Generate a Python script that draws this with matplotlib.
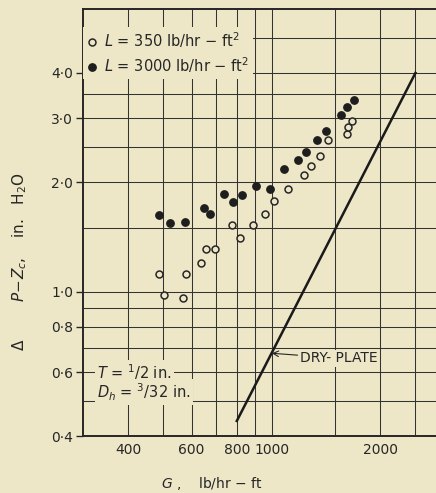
import matplotlib.pyplot as plt
from matplotlib.ticker import NullFormatter

paper = '#ede7c7'
ink = '#262626'

# L = 350 lb/hr-ft2 (open circles)
g_350 = [486, 503, 566, 577, 636, 659, 695, 778, 817, 889,
         956, 1016, 1110, 1229, 1282, 1364, 1427, 1613, 1622, 1669]
dp_350 = [1.12, 0.98, 0.96, 1.12, 1.20, 1.31, 1.31, 1.52, 1.40, 1.52,
          1.64, 1.78, 1.91, 2.09, 2.22, 2.36, 2.61, 2.72, 2.83, 2.95]

# L = 3000 lb/hr-ft2 (filled circles)
g_3000 = [487, 522, 574, 649, 673, 736, 781, 829, 903, 989,
          1084, 1184, 1245, 1334, 1414, 1553, 1613, 1687]
dp_3000 = [1.62, 1.54, 1.55, 1.70, 1.64, 1.86, 1.76, 1.85, 1.95, 1.92,
           2.18, 2.30, 2.42, 2.61, 2.77, 3.06, 3.22, 3.37]

# dry-plate pressure drop line
g_dry = [800, 2500]
dp_dry = [0.44, 4.0]

x_ticks = [400, 600, 800, 1000, 2000]
x_grid = [500, 700, 900, 1500, 2500]
y_ticks = [0.4, 0.6, 0.8, 1.0, 2.0, 3.0, 4.0]
y_tick_labels = ['0·4', '0·6', '0·8', '1·0', '2·0', '3·0', '4·0']
y_grid = [0.5, 0.7, 0.9, 1.5, 2.5, 3.5, 5.0]

plt.rcParams['font.family'] = 'DejaVu Sans'
plt.rcParams['mathtext.fontset'] = 'dejavusans'

fig = plt.figure(figsize=(4.36, 4.93), dpi=100, facecolor=paper)
ax = fig.add_axes([83 / 436, 57 / 493, 353 / 436, 427 / 493], facecolor=paper)

ax.set_xscale('log')
ax.set_yscale('log')
ax.set_xlim(300, 2850)
ax.set_ylim(0.4, 6.0)

ax.set_xticks(x_ticks)
ax.set_xticklabels([str(v) for v in x_ticks])
ax.set_xticks(x_grid, minor=True)
ax.set_yticks(y_ticks)
ax.set_yticklabels(y_tick_labels)
ax.set_yticks(y_grid, minor=True)
ax.xaxis.set_minor_formatter(NullFormatter())
ax.yaxis.set_minor_formatter(NullFormatter())

ax.tick_params(axis='x', which='both', length=0, pad=5, labelsize=10, colors=ink)
ax.tick_params(axis='y', which='major', length=5, width=1.0, direction='out',
               pad=2, labelsize=10, colors=ink)
ax.tick_params(axis='y', which='minor', length=0)

ax.grid(which='both', color='#333333', linewidth=0.75)
ax.set_axisbelow(True)

ax.spines['right'].set_visible(False)
for s in ['left', 'bottom', 'top']:
    ax.spines[s].set_color(ink)
    ax.spines[s].set_linewidth(1.4)

ax.plot(g_dry, dp_dry, color='#1a1a1a', linewidth=1.8, zorder=3)

h_open, = ax.plot(g_350, dp_350, 'o', markersize=5, markerfacecolor=paper,
                  markeredgecolor=ink, markeredgewidth=1.1, zorder=4)
h_fill, = ax.plot(g_3000, dp_3000, 'o', markersize=5.3, color='#1e1e1e', zorder=4)

leg = ax.legend([h_open, h_fill],
                [r'$L$ = 350 lb/hr $-$ ft$^2$', r'$L$ = 3000 lb/hr $-$ ft$^2$'],
                loc='upper left', bbox_to_anchor=(0.0, 0.958), fontsize=10.5,
                frameon=True, facecolor=paper, edgecolor='none', framealpha=1,
                fancybox=False, handlelength=0.8, handletextpad=0.4,
                borderpad=0.25, labelspacing=0.35, borderaxespad=0)
for t in leg.get_texts():
    t.set_color(ink)
leg.set_zorder(6)

box = dict(facecolor=paper, edgecolor='none', pad=1.5)
ax.text(0.04, 0.15, r'$T$ = $^1$/2 in.', transform=ax.transAxes, fontsize=10.5,
        color=ink, va='center', ha='left', bbox=box, zorder=5)
ax.text(0.04, 0.103, r'$D_h$ = $^3$/32 in.', transform=ax.transAxes, fontsize=10.5,
        color=ink, va='center', ha='left', bbox=box, zorder=5)

ax.annotate('DRY- PLATE', xy=(1000, 0.676), xytext=(1200, 0.655),
            fontsize=10, color=ink, ha='left', va='center',
            bbox=dict(facecolor=paper, edgecolor='none', pad=1),
            arrowprops=dict(arrowstyle='->', color=ink, linewidth=0.8,
                            shrinkA=1, shrinkB=0), zorder=5)

fig.text(20 / 436, 1 - 262 / 493,
         r'$\Delta$        $P\!-\!Z_c$,    in.   H$_2$O',
         rotation=90, ha='center', va='center', fontsize=11, color=ink)
fig.text(212 / 436, 1 - 483 / 493, r'$G$ ,    lb/hr $-$ ft',
         ha='center', va='center', fontsize=10, color=ink)

fig.savefig('out.png', dpi=100, facecolor=paper)
